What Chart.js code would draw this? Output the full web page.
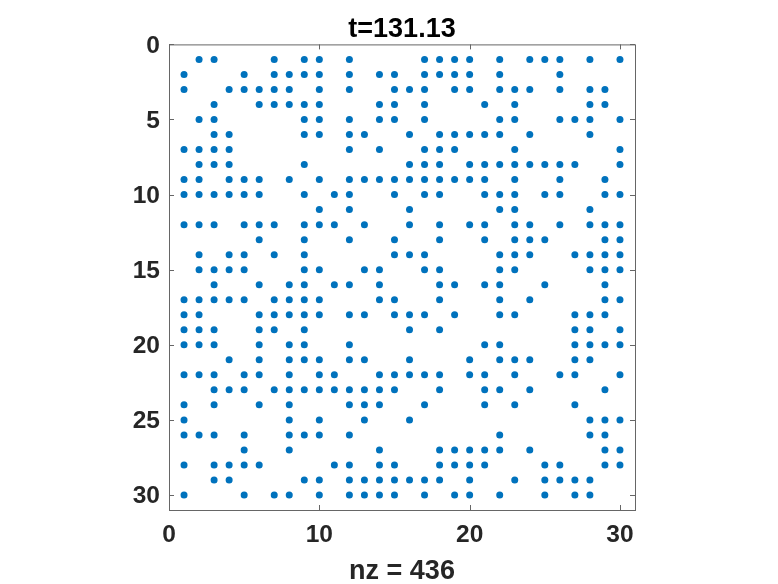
<!DOCTYPE html>
<html>
<head>
<meta charset="utf-8">
<script src="https://cdn.jsdelivr.net/npm/chart.js@4"></script>
<style>
  html, body { margin: 0; padding: 0; background: #fff; }
  canvas { display: block; }
</style>
</head>
<body>
<canvas id="spyChart" width="778" height="584"></canvas>
<script>
// column numbers of the nonzeros, one list per row of the matrix
const row01 = [2,3,7,9,10,12,17,18,19,20,22,24,25,26,28,30];
const row02 = [1,5,7,8,9,10,12,14,15,17,18,19,20,22,26];
const row03 = [1,4,5,6,7,8,10,12,15,16,17,19,20,22,23,24,26,28,29];
const row04 = [3,6,7,8,9,10,14,15,17,21,23,28,29];
const row05 = [2,3,9,10,12,14,15,17,22,23,26,27,28,30];
const row06 = [3,4,9,10,12,13,16,18,19,20,21,22,24,28];
const row07 = [1,2,3,4,12,14,17,18,19,23,30];
const row08 = [2,3,4,9,16,17,18,20,21,22,23,24,25,26,27,30];
const row09 = [1,2,4,5,6,8,10,12,13,14,15,16,17,18,19,20,21,23,26,29];
const row10 = [1,2,3,4,5,6,9,11,12,15,17,18,21,22,23,25,26,29,30];
const row11 = [10,12,16,22,23,28];
const row12 = [1,2,3,5,6,7,9,10,11,13,16,18,20,21,23,24,26,28,29,30];
const row13 = [6,9,12,15,18,21,23,24,25,29,30];
const row14 = [2,4,5,7,9,15,16,17,22,23,24,27,28,29,30];
const row15 = [2,3,4,5,9,10,13,14,17,18,22,23,28,29,30];
const row16 = [3,6,8,9,11,12,14,18,19,21,22,25,29];
const row17 = [1,2,3,4,5,7,8,9,10,14,15,18,22,24,29,30];
const row18 = [1,2,6,7,8,9,10,12,13,15,16,17,19,22,23,27,28,29];
const row19 = [1,2,3,6,7,9,16,18,27,28,30];
const row20 = [1,2,3,6,8,9,12,21,22,27,28,29,30];
const row21 = [4,6,8,9,10,12,13,16,20,22,23,24,27,28];
const row22 = [1,2,3,5,6,8,10,11,14,15,16,17,18,20,21,23,26,27,30];
const row23 = [3,4,5,7,8,9,10,11,12,13,14,15,18,21,22,24,29];
const row24 = [1,3,6,8,12,13,14,17,21,23,27];
const row25 = [1,8,10,13,16,28,29,30];
const row26 = [1,2,3,5,8,9,10,12,22,28,29];
const row27 = [5,8,14,18,19,20,21,22,24,29,30];
const row28 = [1,3,4,5,6,11,12,14,15,18,19,20,21,25,26,29,30];
const row29 = [3,4,9,10,12,13,14,15,16,17,18,20,23,25,26,27,28];
const row30 = [1,5,7,8,10,12,13,14,15,17,19,20,22,25,27,28];

const rows = [row01,row02,row03,row04,row05,row06,row07,row08,row09,row10,
  row11,row12,row13,row14,row15,row16,row17,row18,row19,row20,
  row21,row22,row23,row24,row25,row26,row27,row28,row29,row30];

const points = [];
rows.forEach((cols, i) => {
  cols.forEach(c => points.push({ x: c, y: i + 1 }));
});

const axisColor = "#666666";
const textColor = "#262626";
const tickFont = { family: "'Liberation Sans'", size: 24.5, weight: "bold" };
const labelFont = { family: "'Liberation Sans'", size: 27, weight: "bold" };

// matlab style box: ticks point inward, on all four sides
const spyBox = {
  id: "spyBox",
  afterDraw(chart) {
    const { ctx, chartArea: a, scales } = chart;
    const len = 5;
    ctx.save();
    ctx.strokeStyle = axisColor;
    ctx.lineWidth = 1;
    ctx.strokeRect(a.left + 0.5, a.top + 0.5, a.width, a.height);
    ctx.beginPath();
    scales.x.ticks.forEach(t => {
      const px = Math.round(scales.x.getPixelForValue(t.value)) + 0.5;
      ctx.moveTo(px, a.top); ctx.lineTo(px, a.top + len);
      ctx.moveTo(px, a.bottom); ctx.lineTo(px, a.bottom - len);
    });
    scales.y.ticks.forEach(t => {
      const py = Math.round(scales.y.getPixelForValue(t.value)) + 0.5;
      ctx.moveTo(a.left, py); ctx.lineTo(a.left + len, py);
      ctx.moveTo(a.right, py); ctx.lineTo(a.right - len, py);
    });
    ctx.stroke();
    ctx.restore();
  }
};

new Chart(document.getElementById("spyChart"), {
  type: "scatter",
  data: {
    datasets: [{
      data: points,
      backgroundColor: "#0072BD",
      borderWidth: 0,
      pointRadius: 3.5
    }]
  },
  options: {
    responsive: false,
    animation: false,
    // left padding + equal side axes keeps the title over the middle of the box
    layout: { padding: { left: 26, right: 0, top: 0, bottom: 0 } },
    plugins: {
      legend: { display: false },
      tooltip: { enabled: false },
      title: {
        display: true,
        text: "t=131.13",
        color: "#000000",
        font: labelFont,
        padding: { top: 13, bottom: -1 }
      }
    },
    scales: {
      x: {
        type: "linear",
        min: 0,
        max: 31,
        afterFit(s) { s.height = 74; },
        grid: { display: false, drawTicks: false },
        border: { display: false },
        title: {
          display: true,
          text: "nz = 436",
          color: textColor,
          font: labelFont,
          padding: { top: 4, bottom: -4 }
        },
        ticks: { stepSize: 10, includeBounds: false, maxRotation: 0, color: textColor, font: tickFont, padding: 11 }
      },
      y: {
        type: "linear",
        reverse: true,
        min: 0,
        max: 31,
        afterFit(s) { s.width = 143; },
        grid: { display: false, drawTicks: false },
        border: { display: false },
        ticks: { stepSize: 5, includeBounds: false, color: textColor, font: tickFont, padding: 9, labelOffset: 1.5 }
      },
      spacer: {
        type: "linear",
        position: "right",
        afterFit(s) { s.width = 143; },
        grid: { display: false, drawTicks: false },
        border: { display: false },
        ticks: { display: false }
      }
    }
  },
  plugins: [spyBox]
});
</script>
</body>
</html>
